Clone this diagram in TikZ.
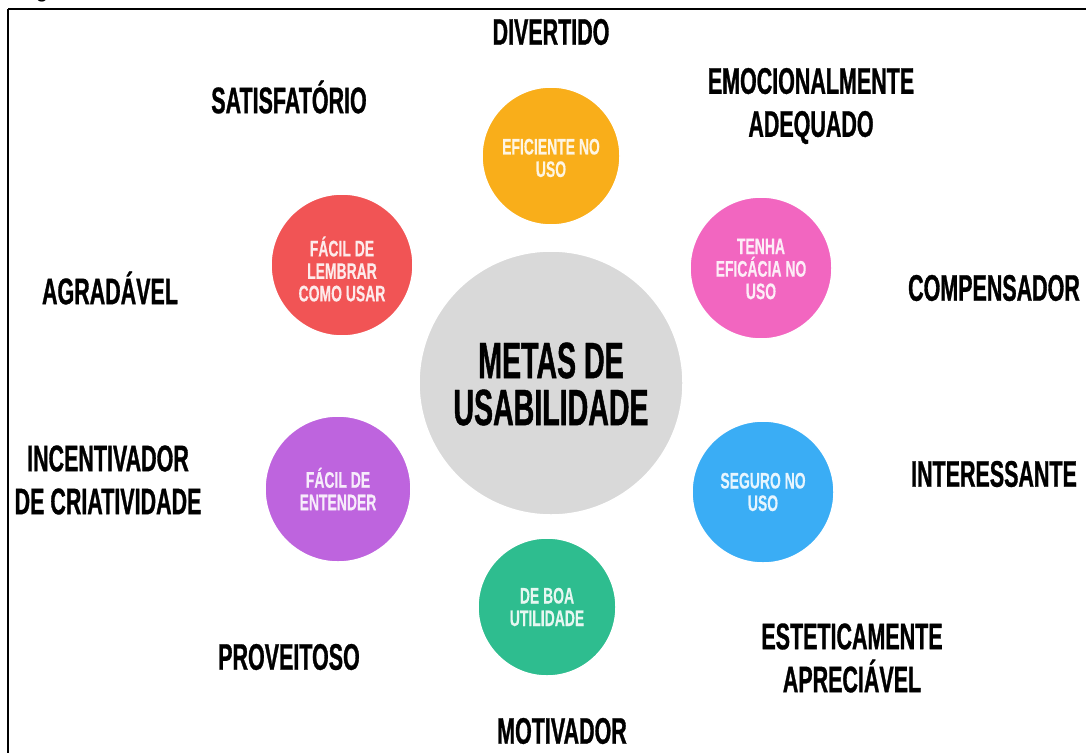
\documentclass[tikz,border=0pt]{standalone}
\usepackage{fontspec}
\setmainfont{Liberation Sans}
\newfontfamily\condA[FakeStretch=0.58,FakeBold=0.8]{Liberation Sans Bold}
\newfontfamily\condB[FakeStretch=0.56,FakeBold=0.8]{Liberation Sans Bold}
\newfontfamily\condC[FakeStretch=0.62,FakeBold=0.3]{Liberation Sans Bold}
\definecolor{cyellow}{RGB}{249,174,26}
\definecolor{cred}{RGB}{241,84,85}
\definecolor{cpink}{RGB}{242,102,192}
\definecolor{cblue}{RGB}{58,173,245}
\definecolor{cpurple}{RGB}{190,100,222}
\definecolor{cgreen}{RGB}{46,189,143}
\definecolor{cgray}{RGB}{217,217,217}
\tikzset{
  circ/.style={circle,inner sep=0pt,draw=white,line width=1.5pt},
  outer/.style={align=center,inner sep=0pt,text=black,font=\condA\fontsize{37}{43}\selectfont},
  inner/.style={align=center,inner sep=0pt,font=\condC\fontsize{22.5}{22.5}\selectfont},
  centre/.style={align=center,inner sep=0pt,text=black,font=\condB\fontsize{51}{47}\selectfont},
}
\begin{document}
\begin{tikzpicture}[x=1pt,y=-1pt]
\useasboundingbox (0,0) rectangle (1086,752);
\fill[white] (0,0) rectangle (1086,752);
% caption fragment and frame
\node[anchor=base,inner sep=0pt,font=\fontsize{22}{22}\selectfont] (cap) at (42,-2) {g};
\draw[line width=1.8pt] (8,9) -- (1092,9) (8,9) -- (8,760);
% circles
\node[circ,fill=cgray,minimum size=264pt] (c0) at (551,383) {};
\node[circ,fill=cyellow,minimum size=138pt] (c1) at (551,156) {};
\node[circ,fill=cpink,minimum size=142pt] (c2) at (761,268) {};
\node[circ,fill=cblue,minimum size=142pt] (c3) at (763,492) {};
\node[circ,fill=cgreen,minimum size=138pt] (c4) at (547,607) {};
\node[circ,fill=cpurple,minimum size=146pt] (c5) at (338,489) {};
\node[circ,fill=cred,minimum size=142pt] (c6) at (342,265) {};
% circle texts
\node[centre] (t0) at (551,384) {METAS DE\\USABILIDADE};
\node[inner,text=white!88!cyellow] (t1) at (551,158) {EFICIENTE NO\\USO};
\node[inner,text=white!88!cpink] (t2) at (761,269) {TENHA\\EFICÁCIA NO\\USO};
\node[inner,text=white!88!cblue] (t3) at (763,492) {SEGURO NO\\USO};
\node[inner,text=white!88!cgreen] (t4) at (547,607) {DE BOA\\UTILIDADE};
\node[inner,text=white!88!cpurple] (t5) at (338,489) {FÁCIL DE\\ENTENDER};
\node[inner,text=white!88!cred] (t6) at (342,269) {FÁCIL DE\\LEMBRAR\\COMO USAR};
% outer labels
\node[outer] (l1) at (551,32) {DIVERTIDO};
\node[outer] (l2) at (289,97) {SATISFATÓRIO};
\node[outer] (l3) at (811,106) {EMOCIONALMENTE\\ADEQUADO};
\node[outer] (l4) at (110,288) {AGRADÁVEL};
\node[outer] (l5) at (994,288) {COMPENSADOR};
\node[outer] (l6) at (108,480) {INCENTIVADOR\\DE CRIATIVIDADE};
\node[outer] (l7) at (994,474) {INTERESSANTE};
\node[outer] (l8) at (289,657) {PROVEITOSO};
\node[outer] (l9) at (852,658) {ESTETICAMENTE\\APRECIÁVEL};
\node[outer] (l10) at (562,731) {MOTIVADOR};
\end{tikzpicture}
\end{document}
